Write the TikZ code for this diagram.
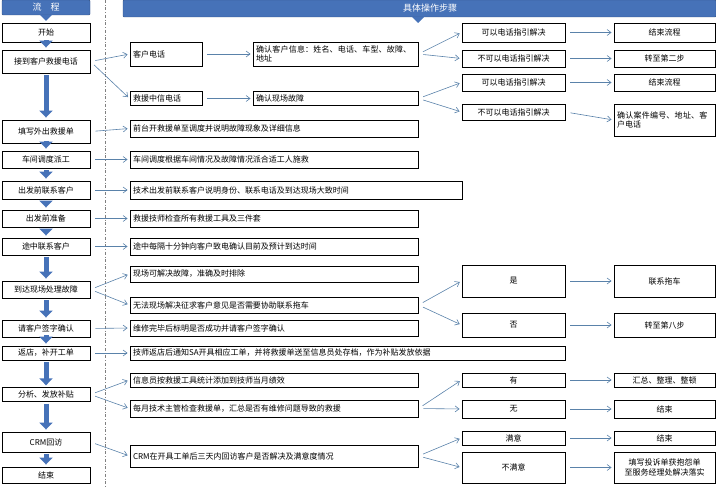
\documentclass[tikz,border=0pt]{standalone}
\usepackage{fontspec}
\setmainfont{Noto Sans CJK SC}
\XeTeXlinebreaklocale "zh"
\XeTeXlinebreakskip = 0pt plus 1pt
\usetikzlibrary{arrows.meta}
\definecolor{hdblue}{RGB}{70,114,184}
\definecolor{lnblue}{RGB}{90,130,170}
\tikzset{
  box/.style={draw,line width=0.9pt,inner sep=3pt,font=\fontsize{8}{9.5}\selectfont,align=center},
  arr/.style={draw=lnblue,line width=0.6pt,-{Straight Barb[length=4pt,width=6pt]},shorten <=5pt,shorten >=2pt},
  bigarr/.style={draw=hdblue,line width=5pt,-{Triangle[width=13pt,length=7pt]},shorten <=2pt,shorten >=2pt},
  hdr/.style={fill=hdblue,draw=hdblue!70!black,rounded corners=1pt,text=white,font=\fontsize{9}{10}\selectfont}
}
% box from (x1,y1) to (x2,y2) in pixel units
\newcommand{\bx}[7][]{\node[box,#1,minimum width={(#4-#2)*1pt},minimum height={(#5-#3)*1pt}] (#6) at ({(#2+#4)/2},{(#3+#5)/2}) {#7};}
\newcommand{\lbx}[6]{\pgfmathsetmacro{\tw}{#3-#1-6}%
  \node[box,align=left,text width=\tw pt,minimum height={(#4-#2)*1pt}] (#5) at ({(#1+#3)/2},{(#2+#4)/2}) {#6};}
\begin{document}
\begin{tikzpicture}[x=1pt,y=-1pt]
\useasboundingbox (0,0) rectangle (716,500);

% headers
\node[hdr,minimum width=88pt,minimum height=15pt] (hl) at (46,7.5) {流\quad 程};
\node[hdr,minimum width=593pt,minimum height=17pt] (hr) at (419.5,8.5) {};
\node[text=white,font=\fontsize{9}{10}\selectfont] (hrt) at (430,8.5) {具体操作步骤};
\fill[hdblue] (40,15)--(52,15)--(46,21)--cycle;
\fill[hdblue] (412,17)--(424,17)--(418,23)--cycle;
\draw[dash dot,gray] (105,0)--(105,487);

% left column
\bx{2}{23}{90}{42}{s0}{开始}
\bx{2}{50}{90}{73}{s1}{接到客户救援电话}
\bx{2}{120}{90}{143}{s2}{填写外出救援单}
\bx{2}{151}{90}{168}{s3}{车间调度派工}
\bx{2}{181}{90}{199}{s4}{出发前联系客户}
\bx{2}{210}{90}{227}{s5}{出发前准备}
\bx{2}{238}{90}{255}{s6}{途中联系客户}
\bx{2}{281}{90}{298}{s7}{到达现场处理故障}
\bx{2}{320}{90}{337}{s8}{请客户签字确认}
\bx{2}{346}{90}{360}{s9}{返店，补开工单}
\bx{2}{388}{90}{401}{s10}{分析、发放补贴}
\bx{2}{432}{90}{452}{s11}{CRM回访}
\bx{2}{467}{90}{483}{s12}{结束}
\foreach \a/\b in {s0/s1,s1/s2,s2/s3,s3/s4,s4/s5,s5/s6,s6/s7,s7/s8,s8/s9,s9/s10,s10/s11,s11/s12}
  \draw[bigarr] (\a.south) -- (\b.north);

% second column
\lbx{130}{42}{202}{66}{kh}{客户电话}
\lbx{253}{42}{418}{66}{khx}{确认客户信息：姓名、电话、车型、故障、地址}
\lbx{130}{92}{202}{105}{zx}{救援中信电话}
\lbx{253}{92}{418}{105}{zxq}{确认现场故障}
\lbx{130}{120}{418}{137}{d2}{前台开救援单至调度并说明故障现象及详细信息}
\lbx{130}{151}{418}{168}{d3}{车间调度根据车间情况及故障情况派合适工人施救}
\lbx{130}{181}{462}{199}{d4}{技术出发前联系客户说明身份、联系电话及到达现场大致时间}
\lbx{130}{210}{418}{227}{d5}{救援技师检查所有救援工具及三件套}
\lbx{130}{238}{418}{255}{d6}{途中每隔十分钟向客户致电确认目前及预计到达时间}
\lbx{130}{266}{418}{282}{d7a}{现场可解决故障，准确及时排除}
\lbx{130}{297}{418}{313}{d7b}{无法现场解决征求客户意见是否需要协助联系拖车}
\lbx{130}{320}{418}{336}{d8}{维修完毕后标明是否成功并请客户签字确认}
\lbx{130}{346}{565}{360}{d9}{技师返店后通知SA开具相应工单，并将救援单送至信息员处存档，作为补贴发放依据}
\lbx{130}{373}{418}{387}{d10a}{信息员按救援工具统计添加到技师当月绩效}
\lbx{130}{400}{418}{417}{d10b}{每月技术主管检查救援单，汇总是否有维修问题导致的救援}
\lbx{130}{445}{418}{467}{d11}{CRM在开具工单后三天内回访客户是否解决及满意度情况}

% third and fourth column
\bx{462}{23}{565}{42}{c1}{可以电话指引解决}
\bx{462}{50}{565}{67}{c2}{不可以电话指引解决}
\bx{462}{74}{565}{91}{c3}{可以电话指引解决}
\bx{462}{104}{565}{120}{c4}{不可以电话指引解决}
\bx{462}{265}{565}{297}{c5}{是}
\bx{462}{313}{565}{337}{c6}{否}
\bx{462}{373}{565}{387}{c7}{有}
\bx{462}{400}{565}{418}{c8}{无}
\bx{462}{431}{565}{445}{c9}{满意}
\bx{462}{452}{565}{483}{c10}{不满意}
\bx{614}{23}{715}{42}{e1}{结束流程}
\bx{614}{50}{715}{67}{e2}{转至第二步}
\bx{614}{74}{715}{91}{e3}{结束流程}
\lbx{614}{104}{715}{136}{e4}{确认案件编号、地址、客户电话}
\bx{614}{265}{715}{297}{e5}{联系拖车}
\bx{614}{313}{715}{337}{e6}{转至第八步}
\bx{614}{373}{715}{387}{e7}{汇总、整理、整顿}
\bx{614}{400}{715}{418}{e8}{结束}
\bx{614}{431}{715}{445}{e9}{结束}
\bx{614}{452}{715}{483}{e10}{填写投诉单获抱怨单\\至服务经理处解决落实}

% connectors
\foreach \a/\b in {s1/kh,s1/zx,kh/khx,zx/zxq,khx/c1,khx/c2,zxq/c3,zxq/c4,
  s2/d2,s3/d3,s4/d4,s5/d5,s6/d6,s7/d7a,s7/d7b,s8/d8,s9/d9,s10/d10a,s10/d10b,s11/d11,
  d7b/c5,d7b/c6,d10b/c7,d10b/c8,d11/c9,d11/c10,
  c1/e1,c2/e2,c3/e3,c4/e4,c5/e5,c6/e6,c7/e7,c8/e8,c9/e9,c10/e10}
  \draw[arr] (\a.east) -- (\b.west);
\end{tikzpicture}
\end{document}
